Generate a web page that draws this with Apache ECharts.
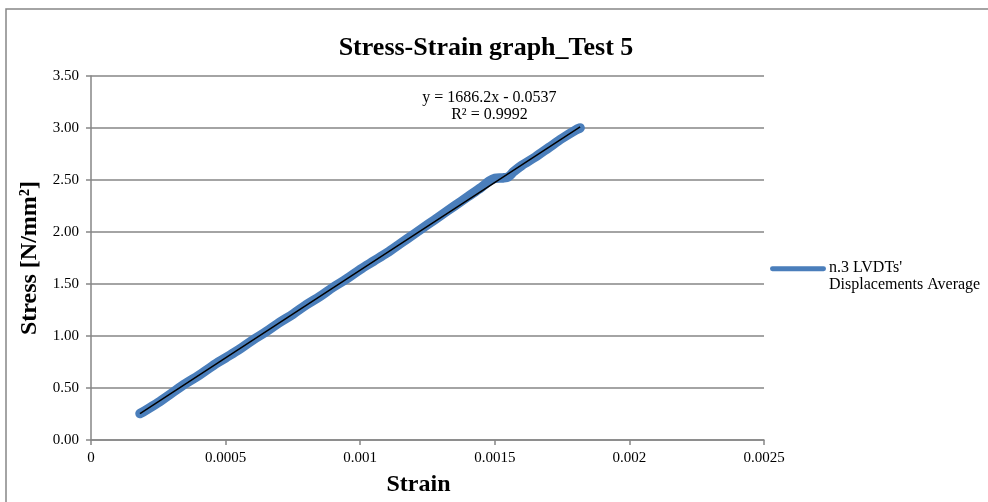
<!DOCTYPE html>
<html>
<head>
<meta charset="utf-8">
<script src="https://cdn.jsdelivr.net/npm/echarts@6/dist/echarts.min.js"></script>
<style>
html,body{margin:0;padding:0;background:#fff;}
#chart{width:988px;height:502px;}
</style>
</head>
<body>
<div id="chart"></div>
<script>
// ---- data ----
const titleText = 'Stress-Strain graph_Test 5';
const seriesName = "n.3 LVDTs'\nDisplacements Average";
const strain = [0.000182, 0.00020, 0.00025, 0.00030, 0.00035, 0.00040, 0.00045, 0.00050, 0.00055,
  0.00060, 0.00065, 0.00070, 0.00075, 0.00080, 0.00085, 0.00090, 0.00095, 0.00100, 0.00105,
  0.00110, 0.00115, 0.00120, 0.00125, 0.00130, 0.00135, 0.00140, 0.00145, 0.00148, 0.00150,
  0.00153, 0.00155, 0.00157, 0.00160, 0.00165, 0.00170, 0.00175, 0.00180, 0.001817];
const stress = [0.255, 0.28, 0.36, 0.45, 0.54, 0.62, 0.71, 0.79, 0.87,
  0.96, 1.04, 1.13, 1.21, 1.30, 1.38, 1.47, 1.55, 1.64, 1.72,
  1.80, 1.89, 1.98, 2.07, 2.16, 2.25, 2.34, 2.43, 2.49, 2.515,
  2.52, 2.53, 2.58, 2.64, 2.72, 2.81, 2.90, 2.98, 3.00];
const trendSlope = 1686.2;
const trendIntercept = -0.0537;
const trendLabel = 'y = 1686.2x - 0.0537\nR² = 0.9992';
const xTicks = [0, 0.0005, 0.001, 0.0015, 0.002, 0.0025];
const yTicks = [0, 0.5, 1, 1.5, 2, 2.5, 3, 3.5];
// ------------------------------------------------

const dataPts = strain.map((x, i) => [x, stress[i]]);
const xMin = Math.min(...strain), xMax = Math.max(...strain);
const trendPts = [[xMin, trendSlope * xMin + trendIntercept], [xMax, trendSlope * xMax + trendIntercept]];

const serif = '"Liberation Serif", "Times New Roman", serif';
const grey = '#868686';
const blue = '#4A7EBB';

const chart = echarts.init(document.getElementById('chart'), null, {renderer: 'canvas'});
chart.setOption({
  animation: false,
  backgroundColor: '#fff',
  title: {
    text: titleText,
    left: 481, top: 30, textAlign: 'center',
    textStyle: {fontFamily: serif, fontSize: 26, fontWeight: 'bold', color: '#000'}
  },
  graphic: [{
    type: 'rect', shape: {x: 6, y: 9, width: 1000, height: 600},
    style: {fill: 'none', stroke: grey, lineWidth: 1.5}, silent: true, z: -1
  }],
  legend: {
    left: 765, top: 254, orient: 'vertical', padding: 5,
    itemWidth: 56, itemHeight: 34,
    icon: 'path://M0,0h0.01v0.01h-0.01z M1,6.5h53a2.5,2.5 0 0 1 0,5h-53a2.5,2.5 0 0 1 0,-5z M0,33.99h0.01v0.01h-0.01z',
    data: [{name: seriesName, itemStyle: {color: blue}}],
    textStyle: {fontFamily: serif, fontSize: 16, color: '#000', lineHeight: 17, padding: [1, 0, 0, -2]},
    itemGap: 3
  },
  grid: {left: 91, right: 224, top: 76, bottom: 59, containLabel: false},
  xAxis: {
    type: 'value', min: 0, max: 0.0025, interval: 0.0005,
    name: 'Strain', nameLocation: 'middle', nameGap: 33,
    nameTextStyle: {fontFamily: serif, fontSize: 24, fontWeight: 'bold', color: '#000', padding: [0, 18, 0, 0]},
    axisLine: {show: true, lineStyle: {color: grey, width: 1.5}},
    axisTick: {show: true, length: 5, lineStyle: {color: grey, width: 1.5}},
    axisLabel: {
      fontFamily: serif, fontSize: 15, color: '#000', margin: 11,
      formatter: v => { const t = xTicks.find(k => Math.abs(k - v) < 1e-9); return String(t !== undefined ? t : v); }
    },
    splitLine: {show: false}
  },
  yAxis: {
    type: 'value', min: 0, max: 3.5, interval: 0.5,
    name: 'Stress [N/mm²]', nameLocation: 'middle', nameGap: 49,
    nameTextStyle: {fontFamily: serif, fontSize: 24, fontWeight: 'bold', color: '#000'},
    axisLine: {show: true, lineStyle: {color: grey, width: 1.5}},
    axisTick: {show: true, length: 5, lineStyle: {color: grey, width: 1.5}},
    axisLabel: {
      fontFamily: serif, fontSize: 15, color: '#000', margin: 12,
      formatter: v => { const t = yTicks.find(k => Math.abs(k - v) < 1e-9); return (t !== undefined ? t : v).toFixed(2); }
    },
    splitLine: {show: true, lineStyle: {color: grey, width: 1.5}}
  },
  series: [
    {
      name: seriesName, type: 'line', data: dataPts, showSymbol: false, symbol: 'none',
      lineStyle: {color: blue, width: 9.5, cap: 'round', join: 'round'},
      itemStyle: {color: blue}, smooth: 0.3, z: 2
    },
    {
      name: 'trend', type: 'line', data: trendPts, showSymbol: false, symbol: 'none',
      lineStyle: {color: '#000', width: 1.5}, z: 3,
      markPoint: {
        symbol: 'circle', symbolSize: 1, itemStyle: {color: 'rgba(0,0,0,0)'},
        data: [{coord: [0.00148, 3.0]}],
        label: {show: true, position: 'top', distance: 4, formatter: trendLabel, fontFamily: serif, fontSize: 16, color: '#000',
          lineHeight: 17, align: 'center'}
      }
    }
  ]
});
</script>
</body>
</html>
